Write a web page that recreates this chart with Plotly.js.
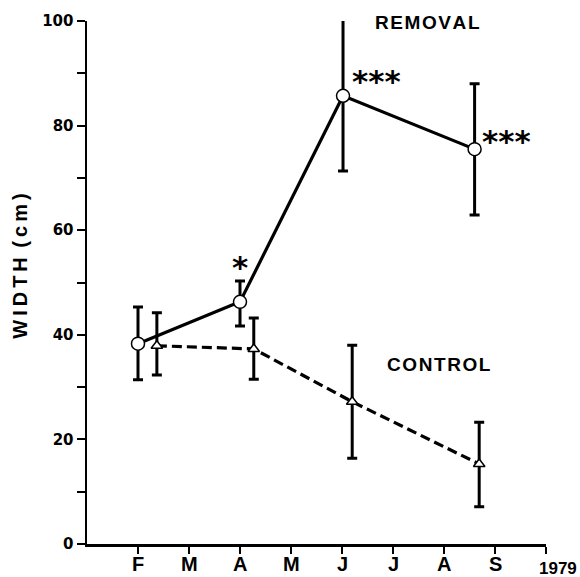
<!DOCTYPE html>
<html>
<head>
<meta charset="utf-8">
<script src="https://cdn.plot.ly/plotly-3.0.1.min.js"></script>
<style>html,body{margin:0;padding:0;background:#fff;}#chart{width:580px;height:577px;}</style>
</head>
<body>
<div id="chart"></div>
<script>
// Month index: 1 = Jan, 2 = Feb, ... 10 = Oct (1979)
const monthTicks = [2, 3, 4, 5, 6, 7, 8, 9, 10];
const monthLabels = ['F', 'M', 'A', 'M', 'J', 'J', 'A', 'S', ''];

const removalX = [2.0, 4.0, 6.02, 8.6];
const removalY = [38.3, 46.3, 85.7, 75.5];
const removalHi = [45.3, 50.3, 100.4, 88.0];
const removalLo = [31.4, 41.7, 71.3, 62.9];
const removalStars = ['', '*', '***', '***'];

const controlX = [2.37, 4.27, 6.2, 8.69];
const controlY = [37.9, 37.3, 27.2, 15.3];
const controlHi = [44.2, 43.2, 38.0, 23.3];
const controlLo = [32.3, 31.5, 16.4, 7.1];

const up = (hi, y) => hi.map((h, i) => h - y[i]);
const dn = (lo, y) => lo.map((l, i) => y[i] - l);

const errStyle = {type: 'data', symmetric: false, color: '#000', thickness: 3, width: 5};

const traces = [
  {
    x: controlX, y: controlY, type: 'scatter', mode: 'lines+markers', name: 'CONTROL',
    line: {color: '#000', width: 3.2, dash: '10px,5px'},
    marker: {symbol: 'triangle-up', size: 10, color: '#fff', line: {color: '#000', width: 1.5}},
    error_y: Object.assign({array: up(controlHi, controlY), arrayminus: dn(controlLo, controlY)}, errStyle),
    cliponaxis: false
  },
  {
    x: removalX, y: removalY, type: 'scatter', mode: 'lines+markers', name: 'REMOVAL',
    line: {color: '#000', width: 3.2},
    marker: {symbol: 'circle', size: 13, color: '#fff', line: {color: '#000', width: 1.5}},
    error_y: Object.assign({array: up(removalHi, removalY), arrayminus: dn(removalLo, removalY)}, errStyle),
    cliponaxis: false
  }
];

const starFont = {family: 'DejaVu Sans', size: 31, weight: 'bold', color: '#000'};
const annotations = [];
annotations.push({x: removalX[1], y: removalY[1], xref: 'x', yref: 'y', text: removalStars[1],
  showarrow: false, xanchor: 'center', yanchor: 'middle', yshift: 35, font: starFont});
annotations.push({x: removalX[2], y: removalY[2], xref: 'x', yref: 'y', text: removalStars[2],
  showarrow: false, xanchor: 'left', yanchor: 'middle', xshift: 7, yshift: 15, font: starFont});
annotations.push({x: removalX[3], y: removalY[3], xref: 'x', yref: 'y', text: removalStars[3],
  showarrow: false, xanchor: 'left', yanchor: 'middle', xshift: 5, yshift: 8, font: starFont});

const labelFont = {family: 'Liberation Sans, Arial', size: 19, weight: 'bold', color: '#000'};
annotations.push({x: 0.741, y: 0.998, xref: 'paper', yref: 'paper', text: 'R\u200AE\u200AM\u200AO\u200AV\u200AA\u200AL',
  showarrow: false, xanchor: 'center', yanchor: 'middle', font: labelFont});
annotations.push({x: 0.767, y: 0.344, xref: 'paper', yref: 'paper', text: 'C\u200AO\u200AN\u200AT\u200AR\u200AO\u200AL',
  showarrow: false, xanchor: 'center', yanchor: 'middle', font: labelFont});
annotations.push({x: 1.026, y: -0.046, xref: 'paper', yref: 'paper', text: '1979',
  showarrow: false, xanchor: 'center', yanchor: 'middle',
  font: {family: 'Liberation Sans, Arial', size: 17, weight: 'bold', color: '#000'}});
annotations.push({x: -0.146, y: 0.532, xref: 'paper', yref: 'paper', text: 'W\u2009I\u2009D\u2009T\u2009H\u2009 (\u2009c\u2009m\u2009)',
  showarrow: false, xanchor: 'center', yanchor: 'middle', textangle: -90,
  font: {family: 'Liberation Sans, Arial', size: 20, weight: 'bold', color: '#000'}});
// month labels under the x axis ticks
monthTicks.forEach((m, i) => {
  if (!monthLabels[i]) return;
  annotations.push({x: m, y: 0, xref: 'x', yref: 'paper', text: monthLabels[i],
    showarrow: false, xanchor: 'center', yanchor: 'middle', yshift: -20,
    font: {family: 'Liberation Sans, Arial', size: 20, weight: 'bold', color: '#000'}});
});

const layout = {
  width: 580, height: 577,
  margin: {l: 87, r: 34, t: 21, b: 33},
  paper_bgcolor: '#fff', plot_bgcolor: '#fff',
  showlegend: false,
  xaxis: {
    range: [1, 10], tickvals: monthTicks, ticktext: monthTicks.map(() => ''),
    showline: true, linecolor: '#000', linewidth: 2.5,
    ticks: 'outside', ticklen: 7, tickwidth: 2, tickcolor: '#000',
    showgrid: false, zeroline: false, fixedrange: true
  },
  yaxis: {
    range: [0, 100], tickvals: [0, 20, 40, 60, 80, 100],
    showline: true, linecolor: '#000', linewidth: 2.5,
    ticks: 'outside', ticklen: 8, tickwidth: 2, tickcolor: '#000',
    minor: {tickvals: [10, 30, 50, 70, 90], ticks: 'outside', ticklen: 8, tickwidth: 2, tickcolor: '#000', showgrid: false},
    showgrid: false, zeroline: false, fixedrange: true,
    tickfont: {family: 'DejaVu Sans', size: 15, weight: 'bold', color: '#000'}
  },
  annotations: annotations
};

Plotly.newPlot('chart', traces, layout, {displayModeBar: false, staticPlot: true});
</script>
</body>
</html>
